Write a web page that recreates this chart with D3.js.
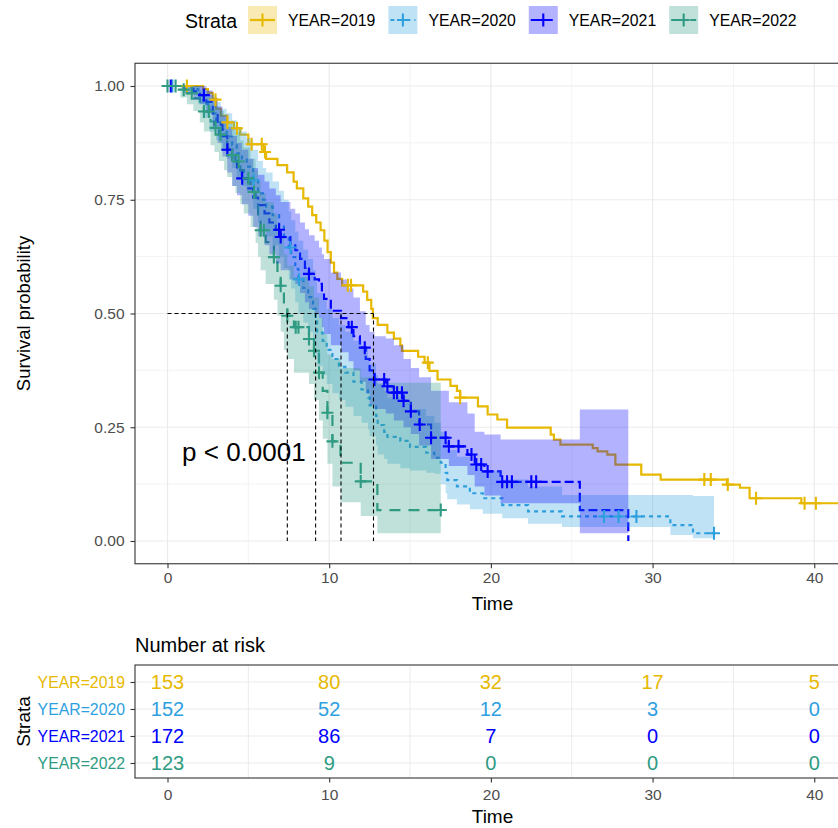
<!DOCTYPE html>
<html><head><meta charset="utf-8">
<script src="https://cdn.jsdelivr.net/npm/d3@7"></script>
<style>
body{margin:0;background:#fff;}
svg{display:block;font-family:"Liberation Sans",Arial,Helvetica,sans-serif;}
</style></head><body>
<svg id="c" width="838" height="828"></svg>
<script>
// ---------------- data ----------------
const strata = ["YEAR=2019","YEAR=2020","YEAR=2021","YEAR=2022"];
const colors = ["#E7B800","#2E9FDF","#0000FF","#2E9B82"];

const time2019 = [0,2.2,2.5,2.8,3.0,3.3,3.7,4.1,4.5,5.0,5.95,6.1,6.8,7.4,7.8,8.0,8.4,8.7,8.95,9.2,9.47,9.7,9.9,10.1,10.3,10.5,10.8,12.1,12.35,12.6,12.7,13.0,13.6,14.0,14.4,14.5,15.5,15.9,16.2,16.7,17.5,17.9,18.1,19.2,19.8,20.4,21.0,23.7,23.9,24.3,26.3,26.6,27.2,27.7,29.3,30.5,34.6,35.4,36.0,39.2,42.2];
const surv2019 = [1,.993,.985,.97,.95,.935,.92,.907,.893,.872,.855,.84,.826,.81,.79,.775,.753,.735,.716,.70,.683,.66,.635,.612,.59,.576,.562,.548,.53,.51,.49,.475,.458,.445,.43,.418,.405,.392,.374,.355,.341,.33,.315,.296,.278,.267,.249,.234,.223,.212,.204,.197,.19,.168,.146,.135,.124,.117,.094,.083,.083];
const cens2019 = [1.2,2.97,3.7,4.3,5.2,5.83,6.03,11.15,11.35,16.1,18.1,33.2,33.6,34.65,36.4,39.4,40.1];

const time2020 = [0,1.5,1.9,2.2,2.6,3.0,3.3,3.66,4.0,4.28,4.6,4.9,5.3,5.6,5.9,6.1,6.5,6.9,7.2,7.5,7.65,7.9,8.1,8.4,8.7,9.0,9.16,9.25,9.6,9.85,10.2,10.6,11.0,11.5,12.0,12.4,12.5,12.9,13.0,13.4,13.6,14.4,15.0,16.0,16.5,16.9,17.2,17.3,17.9,18.7,19.5,20.7,22.3,24.4,31.1,32.5,33.8];
const surv2020 = [1,.993,.98,.96,.94,.92,.905,.889,.87,.852,.838,.823,.793,.764,.75,.735,.716,.694,.67,.645,.624,.598,.575,.556,.536,.51,.486,.458,.44,.42,.40,.383,.37,.35,.333,.315,.298,.275,.255,.24,.229,.22,.207,.194,.183,.172,.15,.134,.12,.105,.094,.079,.065,.054,.035,.017,.017];
const lower2020 = [1,.98,.96,.93,.90,.88,.86,.84,.82,.80,.78,.765,.73,.70,.685,.67,.65,.625,.60,.575,.555,.525,.50,.48,.46,.435,.41,.385,.365,.345,.325,.31,.295,.275,.26,.245,.23,.21,.19,.18,.17,.16,.155,.15,.148,.125,.105,.092,.08,.07,.06,.05,.038,.031,.013,.006,.006];
const upper2020 = [1,1,1,.99,.98,.965,.95,.94,.925,.91,.90,.885,.86,.835,.82,.81,.79,.77,.75,.725,.705,.68,.66,.64,.62,.595,.57,.545,.53,.51,.49,.475,.46,.44,.425,.405,.39,.365,.345,.33,.315,.305,.29,.275,.26,.24,.22,.20,.185,.17,.155,.135,.12,.101,.101,.099,.099];
const cens2020 = [0.3,5.33,7.6,8.13,27.0,27.9,29.0,33.8];

const time2021 = [0,1.0,1.6,2.0,2.4,2.8,3.1,3.4,3.7,4.0,4.3,4.6,5.0,5.3,5.6,6.0,6.3,6.7,7.0,7.6,7.9,8.2,8.5,8.75,9.1,9.37,9.55,9.68,10.1,10.73,11.2,11.5,11.9,12.26,12.5,12.8,13.5,14.0,14.6,15.05,15.56,16.3,17.4,18.55,19.0,19.6,20.6,25.5,28.5];
const surv2021 = [1,.994,.988,.98,.965,.94,.915,.89,.86,.835,.815,.797,.775,.755,.738,.72,.70,.684,.668,.65,.639,.62,.60,.587,.575,.565,.545,.532,.506,.49,.47,.45,.425,.40,.375,.355,.34,.326,.308,.285,.256,.227,.208,.19,.168,.153,.13,.068,0];
const lower2021 = [1,.985,.97,.96,.94,.905,.875,.845,.81,.78,.76,.74,.715,.69,.67,.65,.63,.61,.595,.575,.565,.545,.525,.51,.50,.49,.47,.455,.43,.415,.395,.375,.35,.325,.30,.29,.28,.265,.25,.235,.21,.18,.165,.145,.12,.10,.083,.017,0];
const upper2021 = [1,1,1,1,.99,.975,.955,.935,.91,.89,.875,.86,.84,.82,.805,.79,.775,.76,.745,.73,.72,.70,.685,.672,.66,.645,.63,.62,.59,.575,.555,.535,.505,.475,.46,.45,.445,.43,.40,.38,.36,.33,.305,.28,.24,.234,.223,.289,0];
const cens2021 = [0.2,2.25,3.7,4.62,6.9,7.0,8.75,11.4,12.2,12.8,13.4,13.6,14.0,14.2,14.5,14.6,15.05,15.6,16.3,17.2,17.4,18.0,18.8,19.1,19.4,19.8,20.7,21.0,21.3,22.5,22.8];

const time2022 = [0,0.8,1.2,1.6,2.0,2.25,2.66,2.9,3.18,3.5,3.7,4.0,4.2,4.5,4.72,5.14,5.45,5.6,5.76,6.07,6.58,6.8,7.0,7.2,7.41,7.82,8.75,9.06,9.37,9.6,9.89,10.2,10.7,11.95,12.98,16.9];
const surv2022 = [1,.992,.984,.973,.958,.944,.922,.908,.893,.878,.863,.848,.834,.815,.797,.767,.738,.71,.683,.657,.624,.59,.561,.52,.495,.47,.444,.418,.37,.33,.282,.219,.172,.131,.068,.068];
const lower2022 = [1,.975,.96,.945,.92,.90,.87,.855,.835,.815,.80,.78,.765,.74,.72,.69,.655,.625,.595,.565,.53,.495,.46,.42,.40,.37,.345,.31,.265,.225,.17,.12,.085,.055,.017,.017];
const upper2022 = [1,1,1,1,.99,.98,.965,.955,.945,.93,.92,.91,.90,.88,.865,.84,.815,.79,.765,.745,.72,.69,.665,.63,.605,.58,.56,.535,.49,.455,.41,.40,.38,.36,.348,.348];
const cens2022 = [0,0.5,1.0,1.5,2.25,2.56,2.97,3.28,4.0,4.4,5.0,5.35,5.76,5.96,6.58,7.0,7.41,7.93,8.1,8.75,9.06,9.37,9.89,10.2,11.95,16.9];

const medians = [12.74, 9.16, 10.73, 7.41];
const pLabel = "p < 0.0001";

const riskTimes = [0,10,20,30,40];
const risk2019 = [153,80,32,17,5];
const risk2020 = [152,52,12,3,0];
const risk2021 = [172,86,7,0,0];
const risk2022 = [123,9,0,0,0];

const xTicks = [0,10,20,30,40];
const xMinor = [5,15,25,35];
const yTicks = [0,0.25,0.5,0.75,1];
const yMinor = [0.125,0.375,0.625,0.875];

// ---------------- setup ----------------
const groups = [
  {name:strata[0], color:colors[0], t:time2019, s:surv2019, lo:null, up:null, cens:cens2019, dash:null, risk:risk2019},
  {name:strata[1], color:colors[1], t:time2020, s:surv2020, lo:lower2020, up:upper2020, cens:cens2020, dash:"4,4", risk:risk2020},
  {name:strata[2], color:colors[2], t:time2021, s:surv2021, lo:lower2021, up:upper2021, cens:cens2021, dash:"9,4", risk:risk2021},
  {name:strata[3], color:colors[3], t:time2022, s:surv2022, lo:lower2022, up:upper2022, cens:cens2022, dash:"11,8", risk:risk2022}
];

const svg = d3.select("#c");
const FONT_TICK = 15.5, GRID = "#EBEBEB", FRAME = "#333333", TICKTXT = "#4D4D4D";

const P = {l:135, r:850, t:63.25, b:563.75};
const x = d3.scaleLinear().domain([-2.01, 42.21]).range([P.l, P.r]);
const y = d3.scaleLinear().domain([-0.05, 1.05]).range([P.b, P.t]);

svg.append("defs").append("clipPath").attr("id","clipMain")
  .append("rect").attr("x",P.l).attr("y",P.t).attr("width",P.r-P.l).attr("height",P.b-P.t);

const main = svg.append("g");
main.append("rect").attr("x",P.l).attr("y",P.t).attr("width",P.r-P.l).attr("height",P.b-P.t).attr("fill","#fff");
// grid
const grid = main.append("g");
xMinor.forEach(v=>grid.append("line").attr("x1",x(v)).attr("x2",x(v)).attr("y1",P.t).attr("y2",P.b).attr("stroke",GRID).attr("stroke-width",0.6));
yMinor.forEach(v=>grid.append("line").attr("x1",P.l).attr("x2",P.r).attr("y1",y(v)).attr("y2",y(v)).attr("stroke",GRID).attr("stroke-width",0.6));
xTicks.forEach(v=>grid.append("line").attr("x1",x(v)).attr("x2",x(v)).attr("y1",P.t).attr("y2",P.b).attr("stroke",GRID).attr("stroke-width",1.2));
yTicks.forEach(v=>grid.append("line").attr("x1",P.l).attr("x2",P.r).attr("y1",y(v)).attr("y2",y(v)).attr("stroke",GRID).attr("stroke-width",1.2));

const plot = main.append("g").attr("clip-path","url(#clipMain)");
const lineGen = d3.line().x(d=>x(d[0])).y(d=>y(d[1])).curve(d3.curveStepAfter);
const areaGen = d3.area().x(d=>x(d[0])).y0(d=>y(d[1])).y1(d=>y(d[2])).curve(d3.curveStepAfter);

// survival lines
groups.forEach(g=>{
  const pts = g.t.map((t,i)=>[t,g.s[i]]);
  plot.append("path").attr("d",lineGen(pts)).attr("fill","none")
    .attr("stroke",g.color).attr("stroke-width",2.2)
    .attr("stroke-dasharray",g.dash);
});
// ribbons
groups.forEach(g=>{
  if(!g.lo) return;
  const pts = g.t.map((t,i)=>[t,g.lo[i],g.up[i]]);
  plot.append("path").attr("d",areaGen(pts)).attr("fill",g.color).attr("fill-opacity",0.3).attr("stroke","none");
});
// censor marks
function survAt(g,t){ let v=g.s[0]; for(let i=0;i<g.t.length;i++){ if(g.t[i]<=t) v=g.s[i]; } return v; }
const plusPath = "M-6,0H6M0,-6.5V6.5";
groups.forEach(g=>{
  plot.selectAll(null).data(g.cens).enter().append("path")
    .attr("d",plusPath)
    .attr("transform",t=>`translate(${x(t)},${y(survAt(g,t))})`)
    .attr("stroke",g.color).attr("stroke-width",2.1).attr("fill","none");
});
// median lines
const medG = plot.append("g").attr("stroke","#000").attr("stroke-width",1.1).attr("stroke-dasharray","4,3").attr("fill","none");
medG.append("line").attr("x1",x(0)).attr("x2",x(d3.max(medians))).attr("y1",y(0.5)).attr("y2",y(0.5));
medians.forEach(m=>medG.append("line").attr("x1",x(m)).attr("x2",x(m)).attr("y1",y(0.5)).attr("y2",y(0)));
// p value
plot.append("text").attr("x",x(0.9)).attr("y",y(0.175)).attr("font-size",26).attr("fill","#000").text(pLabel);

// frame
main.append("rect").attr("x",P.l).attr("y",P.t).attr("width",P.r-P.l).attr("height",P.b-P.t)
  .attr("fill","none").attr("stroke",FRAME).attr("stroke-width",1.1);

// axes
const yAxis = d3.axisLeft(y).tickValues(yTicks).tickFormat(d3.format(".2f")).tickSize(4.5).tickPadding(6);
const gy = svg.append("g").attr("transform",`translate(${P.l},0)`).call(yAxis);
const xAxis = d3.axisBottom(x).tickValues(xTicks).tickFormat(d3.format("d")).tickSize(4.5).tickPadding(4);
const gx = svg.append("g").attr("transform",`translate(0,${P.b})`).call(xAxis);
[gx,gy].forEach(g=>{
  g.select(".domain").remove();
  g.selectAll(".tick line").attr("stroke",FRAME).attr("stroke-width",1.1);
  g.selectAll(".tick text").attr("fill",TICKTXT).attr("font-size",FONT_TICK).attr("font-family","Liberation Sans, Arial, sans-serif");
});
svg.append("text").attr("x",(P.l+P.r)/2).attr("y",610).attr("text-anchor","middle").attr("font-size",19).text("Time");
svg.append("text").attr("transform",`translate(23,${(P.t+P.b)/2}) rotate(-90)`).attr("text-anchor","middle")
  .attr("dominant-baseline","central").attr("font-size",18.5).text("Survival probability");

// legend
const leg = svg.append("g");
leg.append("text").attr("x",185).attr("y",27.5).attr("font-size",19.5).text("Strata");
let lx = 248;
groups.forEach(g=>{
  const k = leg.append("g").attr("transform",`translate(${lx},6)`);
  k.append("rect").attr("width",29).attr("height",28).attr("fill",g.color).attr("fill-opacity",0.3);
  k.append("line").attr("x1",2).attr("x2",27).attr("y1",14).attr("y2",14).attr("stroke",g.color).attr("stroke-width",2.2).attr("stroke-dasharray",g.dash);
  k.append("path").attr("d",plusPath).attr("transform","translate(14.5,14)").attr("stroke",g.color).attr("stroke-width",2.1).attr("fill","none");
  const tx = leg.append("text").attr("x",lx+40).attr("y",26).attr("font-size",15.8).text(g.name);
  lx += 40 + tx.node().getComputedTextLength() + 13;
});

// ---------------- risk table ----------------
const R = {l:135, r:850, t:665, b:778};
const yr = d3.scalePoint().domain(strata).range([R.t+17, R.b-15]);
svg.append("text").attr("x",135).attr("y",652).attr("font-size",20).text("Number at risk");
const rt = svg.append("g");
rt.append("rect").attr("x",R.l).attr("y",R.t).attr("width",R.r-R.l).attr("height",R.b-R.t).attr("fill","#fff");
xMinor.forEach(v=>rt.append("line").attr("x1",x(v)).attr("x2",x(v)).attr("y1",R.t).attr("y2",R.b).attr("stroke",GRID).attr("stroke-width",1));
strata.forEach(s=>rt.append("line").attr("x1",R.l).attr("x2",R.r).attr("y1",yr(s)).attr("y2",yr(s)).attr("stroke",GRID).attr("stroke-width",1.2));
groups.forEach(g=>{
  rt.selectAll(null).data(g.risk).enter().append("text")
    .attr("x",(d,i)=>x(riskTimes[i])).attr("y",yr(g.name)).attr("dy","0.36em")
    .attr("text-anchor","middle").attr("font-size",20).attr("fill",g.color).text(d=>d);
});
rt.append("rect").attr("x",R.l).attr("y",R.t).attr("width",R.r-R.l).attr("height",R.b-R.t)
  .attr("fill","none").attr("stroke",FRAME).attr("stroke-width",1.1);
const gyr = svg.append("g").attr("transform",`translate(${R.l},0)`).call(d3.axisLeft(yr).tickSize(4.5).tickPadding(5.5));
gyr.select(".domain").remove();
gyr.selectAll(".tick line").attr("stroke",FRAME).attr("stroke-width",1.1);
gyr.selectAll(".tick text").attr("font-size",15.8).attr("font-family","Liberation Sans, Arial, sans-serif")
  .attr("fill",(d,i)=>colors[i]);
const gxr = svg.append("g").attr("transform",`translate(0,${R.b})`).call(d3.axisBottom(x).tickValues(xTicks).tickFormat(d3.format("d")).tickSize(4.5).tickPadding(6));
gxr.select(".domain").remove();
gxr.selectAll(".tick line").attr("stroke",FRAME).attr("stroke-width",1.1);
gxr.selectAll(".tick text").attr("fill",TICKTXT).attr("font-size",FONT_TICK).attr("font-family","Liberation Sans, Arial, sans-serif");
svg.append("text").attr("x",(R.l+R.r)/2).attr("y",823).attr("text-anchor","middle").attr("font-size",19).text("Time");
svg.append("text").attr("transform",`translate(23,${(R.t+R.b)/2}) rotate(-90)`).attr("text-anchor","middle")
  .attr("dominant-baseline","central").attr("font-size",19).text("Strata");
</script>
</body></html>
